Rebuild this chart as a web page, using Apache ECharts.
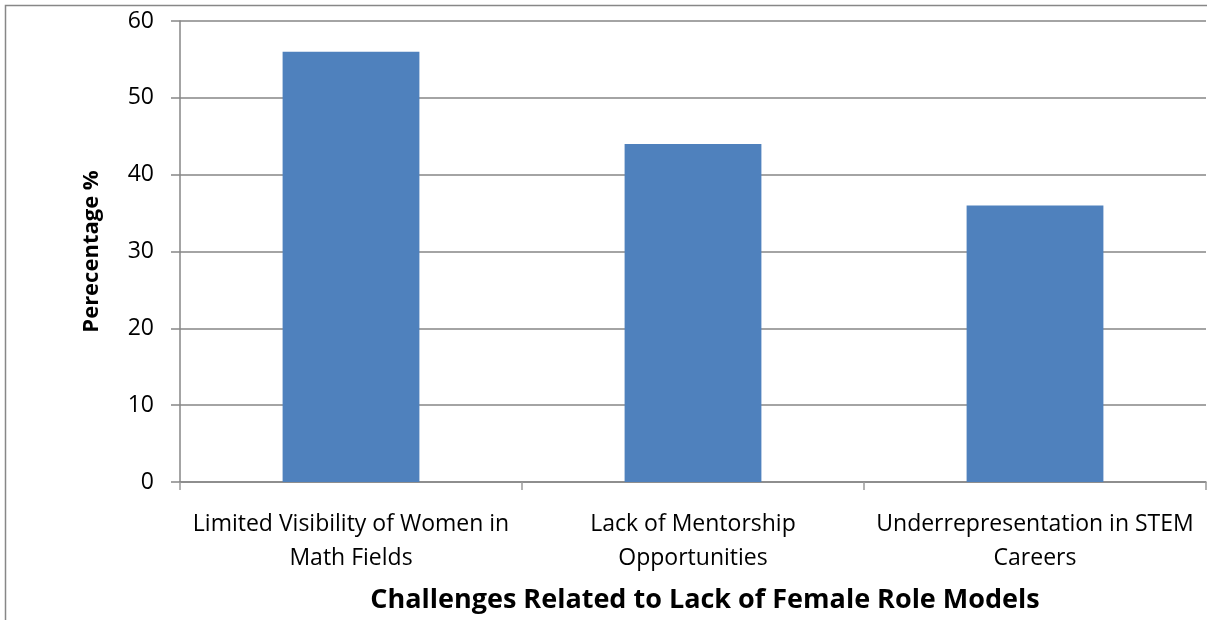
<!DOCTYPE html>
<html>
<head>
<meta charset="utf-8">
<script src="https://cdn.jsdelivr.net/npm/echarts@6/dist/echarts.min.js"></script>
<style>
html,body{margin:0;padding:0;background:#fff;}
#c{width:1207px;height:620px;}
</style>
</head>
<body>
<div id="c"></div>
<script>
const categories = [
  "Limited Visibility of Women in\nMath Fields",
  "Lack of Mentorship\nOpportunities",
  "Underrepresentation in STEM\nCareers"
];
const percentages = [56, 44, 36];
const yTicks = { min: 0, max: 60, interval: 10 };
const xTitle = "Challenges Related to Lack of Female Role Models";
const yTitle = "Perecentage %";

const FONT = "Open Sans";
const chart = echarts.init(document.getElementById('c'), null, { renderer: 'canvas' });
chart.setOption({
  animation: false,
  backgroundColor: '#ffffff',
  grid: { left: 180, top: 21, right: 1, bottom: 138, containLabel: false },
  graphic: [
    { type: 'polyline', shape: { points: [[5.5, 625], [5.5, 5.5], [1215, 5.5]] },
      style: { stroke: '#878787', lineWidth: 1.5, fill: null }, silent: true }
  ],
  xAxis: {
    type: 'category',
    data: categories,
    name: xTitle,
    nameLocation: 'middle',
    nameGap: 105,
    nameTextStyle: { fontFamily: FONT, fontSize: 27, fontWeight: 'bold', color: '#000', padding: [0, 0, 0, 24] },
    axisLine: { lineStyle: { color: '#868686', width: 1.5 } },
    axisTick: { show: true, length: 8, alignWithLabel: false, lineStyle: { color: '#9a9a9a', width: 1.5 } },
    axisLabel: { fontFamily: FONT, fontSize: 23, color: '#000', lineHeight: 34, margin: 25, interval: 0 },
    splitLine: { show: false }
  },
  yAxis: {
    type: 'value',
    min: yTicks.min, max: yTicks.max, interval: yTicks.interval,
    name: yTitle,
    nameLocation: 'middle',
    nameGap: 77,
    nameTextStyle: { fontFamily: FONT, fontSize: 22, fontWeight: 'bold', color: '#000' },
    axisLine: { show: true, lineStyle: { color: '#868686', width: 1.5 } },
    axisTick: { show: true, length: 9, lineStyle: { color: '#868686', width: 1.5 } },
    axisLabel: { fontFamily: FONT, fontSize: 23, color: '#000', margin: 26 },
    splitLine: { show: true, lineStyle: { color: '#868686', width: 1.5 } }
  },
  series: [{
    type: 'bar',
    data: percentages,
    barWidth: '40%',
    itemStyle: { color: '#4F81BD' }
  }]
});
</script>
</body>
</html>
